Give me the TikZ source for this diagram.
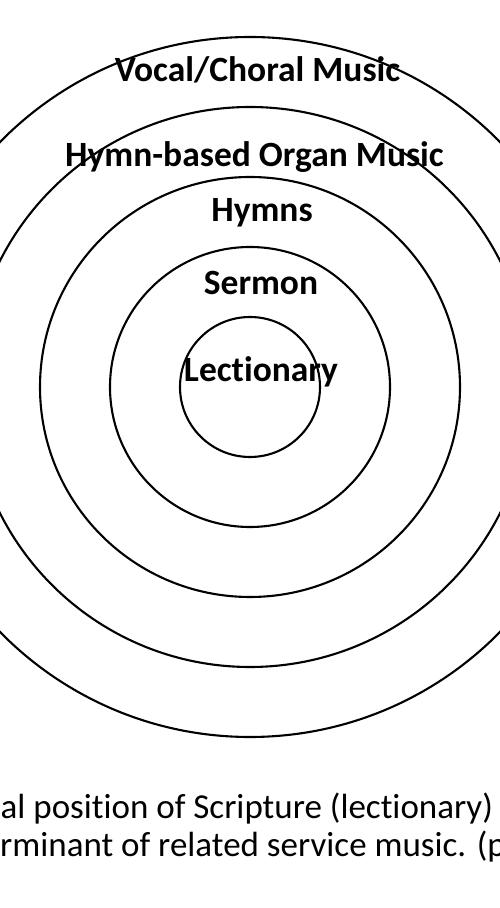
\documentclass[tikz,border=0pt]{standalone}
\usepackage{fontspec}
\setmainfont{Carlito}[Ligatures={NoCommon}]
\begin{document}
\begin{tikzpicture}[x=1pt,y=1pt,
  ring/.style={draw=black,line width=2.1pt},
  lbl/.style={anchor=base,inner sep=0pt,font=\fontsize{35.5}{40}\selectfont\bfseries},
  captext/.style={anchor=base west,inner sep=0pt,font=\fontsize{35}{40}\selectfont}]
\useasboundingbox (0,0) rectangle (500,908);
\clip (0,0) rectangle (500,908);
\fill[white] (0,0) rectangle (500,908);
\coordinate (c) at (250,521);
\foreach \r in {70,140,210,280,350} \draw[ring] (c) circle[radius=\r];
\node[lbl] (vocal) at (257.5,826) {Vocal/Choral Music};
\node[lbl] (organ) at (254.5,741) {Hymn-based Organ Music};
\node[lbl] (hymns) at (262,686) {Hymns};
\node[lbl] (sermon) at (261,613) {Sermon};
\node[lbl] (lect) at (261,526) {Lectionary};
\node[captext] (cap1) at (0.5,89) {al position of Scripture (lectionary)};
\node[captext] (cap2) at (0,51) {rminant of related service music. (p};
\end{tikzpicture}
\end{document}
